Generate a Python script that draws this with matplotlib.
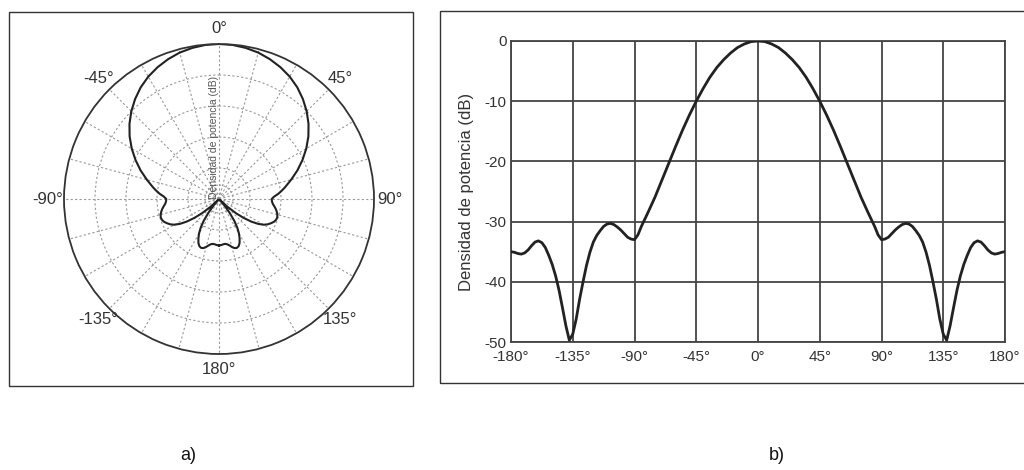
#-------------------------------------------------#
#--------------Libraries--------------------------#
#-------------------------------------------------#

import numpy as np
import matplotlib
matplotlib.use("Agg")
import matplotlib.pyplot as plt
from matplotlib.patches import Rectangle

plt.rcParams['font.family'] = ['Liberation Sans', 'DejaVu Sans']
plt.rcParams['axes.unicode_minus'] = False

#-------------------------------------------------#
#---------------Data--------#
#-------------------------------------------------#

angle_deg = [-180, -177.5, -175, -172.5, -170, -167.5, -165, -162.5, -160, -157.5,
             -155, -152.5, -150, -147.5, -145, -142.5, -140, -137.5, -135, -132.5,
             -130, -127.5, -125, -122.5, -120, -117.5, -115, -112.5, -110, -107.5,
             -105, -102.5, -100, -97.5, -95, -92.5, -90, -87.5, -85, -82.5,
             -80, -75, -70, -65, -60, -55, -50, -45, -40, -35,
             -30, -25, -20, -15, -10, -5, 0,
             5, 10, 15, 20, 25, 30, 35, 40, 45, 50,
             55, 60, 65, 70, 75, 80, 82.5, 85, 87.5, 90,
             92.5, 95, 97.5, 100, 102.5, 105, 107.5, 110, 112.5, 115,
             117.5, 120, 122.5, 125, 127.5, 130, 132.5, 135, 137.5, 140,
             142.5, 145, 147.5, 150, 152.5, 155, 157.5, 160, 162.5, 165,
             167.5, 170, 172.5, 175, 177.5, 180]

density_db = [-35.0, -35.1, -35.3, -35.4, -35.2, -34.7, -34.0, -33.4, -33.2, -33.5,
              -34.3, -35.6, -37.1, -39.0, -41.4, -44.3, -47.3, -49.7, -48.7, -46.2,
              -42.9, -40.0, -37.3, -35.1, -33.4, -32.3, -31.5, -30.8, -30.4, -30.3,
              -30.5, -30.9, -31.4, -32.0, -32.6, -32.9, -33.0, -32.2, -30.8, -29.6,
              -28.4, -25.9, -23.1, -20.3, -17.5, -14.8, -12.3, -10.0, -7.9, -6.0,
              -4.4, -3.1, -2.0, -1.1, -0.5, -0.1, 0.0,
              -0.1, -0.5, -1.1, -2.0, -3.1, -4.4, -6.0, -7.9, -10.0, -12.3,
              -14.8, -17.5, -20.3, -23.1, -25.9, -28.4, -29.6, -30.8, -32.2, -33.0,
              -32.9, -32.6, -32.0, -31.4, -30.9, -30.5, -30.3, -30.4, -30.8, -31.5,
              -32.3, -33.4, -35.1, -37.3, -40.0, -42.9, -46.2, -48.7, -49.7, -47.3,
              -44.3, -41.4, -39.0, -37.1, -35.6, -34.3, -33.5, -33.2, -33.4, -34.0,
              -34.7, -35.2, -35.4, -35.3, -35.1, -35.0]

db_floor = -50
ring_db = [-45.5, -40, -30, -20, -10]
spoke_deg = list(range(0, 360, 15))
spoke_labels = {0: "0°", 45: "45°", 90: "90°", 135: "135°",
                180: "180°", 225: "-135°", 270: "-90°", 315: "-45°"}

x_ticks = [-180, -135, -90, -45, 0, 45, 90, 135, 180]
y_ticks = [0, -10, -20, -30, -40, -50]

ylabel = "Densidad de potencia (dB)"

#-------------------------------------------------#
#---------------Figure----------------------------#
#-------------------------------------------------#

fig = plt.figure(figsize=(10.24, 4.70), dpi=100)

line_col = "#222222"
grid_col = "#999999"
text_col = "#333333"

# frames around each panel
fig.patches.append(Rectangle((9/1024, 1-386/470), 404/1024, 374/470, transform=fig.transFigure,
                             fill=False, edgecolor="#333333", lw=1.0))
fig.patches.append(Rectangle((440/1024, 1-383/470), 600/1024, 372/470, transform=fig.transFigure,
                             fill=False, edgecolor="#333333", lw=1.0))

#-------------------------------------------------#
#---------------a) polar plot---------------------#
#-------------------------------------------------#

ax1 = fig.add_axes([64/1024, 1-354/470, 310/1024, 310/470], projection="polar")
ax1.set_theta_zero_location("N")
ax1.set_theta_direction(-1)

theta = np.deg2rad(angle_deg)
r = np.array(density_db) - db_floor
ax1.plot(theta, r, color=line_col, lw=1.5)

ax1.set_ylim(0, -db_floor)
ax1.set_rgrids([d - db_floor for d in ring_db], labels=[""] * len(ring_db))
ax1.set_thetagrids(spoke_deg, labels=[spoke_labels.get(a, "") for a in spoke_deg])
ax1.grid(True, color=grid_col, lw=0.8, linestyle=(0, (2, 2)))
ax1.spines["polar"].set_color("#333333")
ax1.spines["polar"].set_linewidth(1.3)
ax1.tick_params(axis="x", labelsize=12, labelcolor=text_col, pad=1)

ax1.text(0, 0, ylabel, rotation=90, ha="right", va="bottom", fontsize=7.5,
         color="#555555", zorder=5)

#-------------------------------------------------#
#---------------b) cartesian plot-----------------#
#-------------------------------------------------#

ax2 = fig.add_axes([511/1024, 1-342/470, 494/1024, 301/470])
ax2.plot(angle_deg, density_db, color=line_col, lw=2.0, zorder=3)
ax2.set_xlim(-180, 180)
ax2.set_ylim(-50, 0)
ax2.set_xticks(x_ticks)
ax2.set_xticklabels([f"{t}°" for t in x_ticks])
ax2.set_yticks(y_ticks)
ax2.grid(True, color="#444444", lw=1.3)
for s in ax2.spines.values():
    s.set_color("#444444")
    s.set_linewidth(1.3)
ax2.tick_params(length=0, labelsize=11, labelcolor=text_col)
ax2.tick_params(axis="x", pad=6)
ax2.tick_params(axis="y", pad=3)
ax2.set_ylabel(ylabel, fontsize=12, color=text_col, labelpad=8)

#-------------------------------------------------#
#---------------panel letters---------------------#
#-------------------------------------------------#

fig.text(188/1024, 1-456/470, "a)", ha="center", va="center", fontsize=13, color="#111111")
fig.text(777/1024, 1-456/470, "b)", ha="center", va="center", fontsize=13, color="#111111")

plt.savefig("out.png", dpi=100)
